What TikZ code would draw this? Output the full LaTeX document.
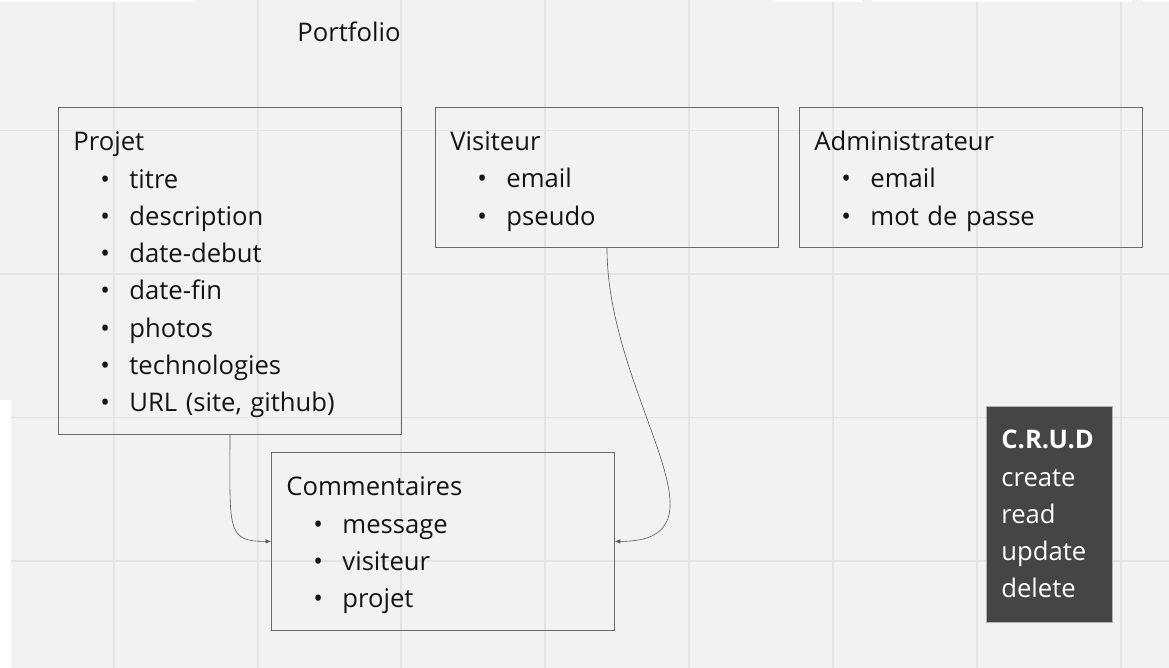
\documentclass[tikz,border=0pt]{standalone}
\usepackage{fontspec}
\setmainfont{Open Sans}
\usepackage{xcolor}
\usepackage{tikz}
\usetikzlibrary{positioning,arrows.meta,calc}

\definecolor{boardbg}{HTML}{F2F2F2}
\definecolor{gridln}{HTML}{E4E4E4}
\definecolor{boxln}{HTML}{6A6A6A}
\definecolor{txt}{HTML}{141414}
\definecolor{crudbg}{HTML}{454545}

\newcommand{\itm}{\hspace*{5.4mm}\makebox[5.8mm][l]{\textbullet}}
\newcommand{\hd}{\rule{0pt}{15.4pt}}

\begin{document}
\begin{tikzpicture}[x=0.02cm,y=-0.02cm,
		font=\fontsize{14.6pt}{21.2pt}\selectfont,text=txt,
		ent/.style={draw=boxln,line width=0.5pt,anchor=north west,align=left,inner xsep=3mm,inner ysep=0pt},
		crudbox/.style={draw=gray!60,fill=crudbg,text=white,anchor=north west,align=left,inner xsep=3mm,inner ysep=0pt},
		ar/.style={-{Latex[length=1.1mm,width=0.9mm]},gray!70!black,line width=0.35pt},
		grid/.style={gridln,line width=0.6pt}]
		% board
		\fill[boardbg] (0,0) rectangle (1169,668);
		\useasboundingbox (0,0) rectangle (1169,668);
		\foreach \x in {114,258,401,545,689,833,977,1121}
			\draw[grid] (\x,0) -- (\x,668);
		\foreach \y in {130.5,274,417.5,561}
			\draw[grid] (0,\y) -- (1169,\y);
		\fill[white] (0,0) rectangle (195,2);
		\fill[white] (773,0) rectangle (862,2);
		\fill[white] (872,0) rectangle (1132,2);
		\fill[white] (1142,0) rectangle (1169,2);
		\fill[white] (0,400) rectangle (11,668);
		% entities
		\node (portfolio) at (349,32) {Portfolio};
		\node[ent,text width=6.26cm,minimum height=6.54cm] (projet) at (58,107)
			{\hd Projet\\\itm titre\\\itm description\\\itm date-debut\\\itm date-fin\\\itm photos\\\itm technologies\\\itm URL (site, github)};
		\node[ent,text width=6.26cm,minimum height=2.8cm] (visiteur) at (435,107)
			{\hd Visiteur\\\itm email\\\itm pseudo};
		\node[ent,text width=6.26cm,minimum height=2.8cm] (admin) at (799,107)
			{\hd Administrateur\\\itm email\\\itm mot de passe};
		\node[ent,text width=6.26cm,minimum height=3.56cm] (comm) at (271,452)
			{\hd Commentaires\\\itm message\\\itm visiteur\\\itm projet};
		\node[crudbox,text width=1.92cm,minimum height=4.32cm] (crud) at (986,406)
			{\textbf{C.R.U.D}\\create\\read\\update\\delete};
		% links
		\draw[ar] ([xshift=3.44cm]projet.south west) .. controls +(0,95) and +(-45,0) .. (comm.west);
		\draw[ar] ([xshift=3.44cm]visiteur.south west) .. controls +(0,150) and +(125,0) .. (comm.east);
	\end{tikzpicture}
\end{document}
